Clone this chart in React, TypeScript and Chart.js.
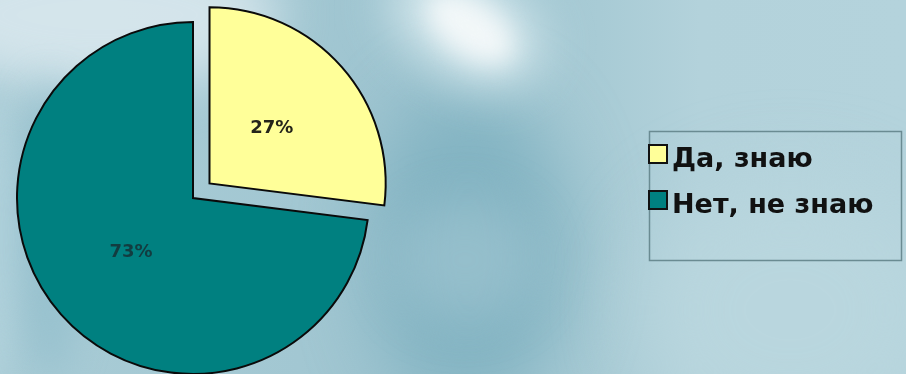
import React, { useEffect, useRef } from "react";
import { Chart, registerables } from "chart.js";

Chart.register(...registerables);

const categories: string[] = ["Да, знаю", "Нет, не знаю"];
const values: number[] = [27, 73];
const sliceColors: string[] = ["#ffff99", "#008080"];
const sliceOffsets: number[] = [88, 0];
const labelColors: string[] = ["#24241a", "#123c40"];

const pctLabelsPlugin = {
  id: "pctLabels",
  afterDatasetsDraw(chart: any) {
    const ctx = chart.ctx;
    const meta = chart.getDatasetMeta(0);
    const ds = chart.data.datasets[0];
    const total = (ds.data as number[]).reduce((a, b) => a + b, 0);
    ctx.save();
    ctx.font = "bold 18px 'DejaVu Sans'";
    ctx.textAlign = "center";
    ctx.textBaseline = "middle";
    meta.data.forEach((arc: any, i: number) => {
      const off = (arc.options.offset || 0) / 4;
      const circ = arc.endAngle - arc.startAngle;
      const fix = 1 - Math.sin(Math.min(Math.PI, circ));
      const shift = off + off * fix;
      const mid = (arc.startAngle + arc.endAngle) / 2;
      const r = shift + arc.outerRadius * 0.47;
      const x = arc.x + Math.cos(mid) * r;
      const y = arc.y + Math.sin(mid) * r;
      ctx.fillStyle = labelColors[i];
      ctx.fillText(Math.round((ds.data[i] / total) * 100) + "%", x, y);
    });
    ctx.restore();
  },
};

const boxLegendPlugin = {
  id: "boxLegend",
  afterDraw(chart: any) {
    const ctx = chart.ctx;
    const ds = chart.data.datasets[0];
    const labels = chart.data.labels as string[];
    ctx.save();
    ctx.strokeStyle = "#6a8b92";
    ctx.lineWidth = 1.5;
    ctx.strokeRect(649.5, 131.5, 252, 129);
    ctx.font = "bold 27px 'DejaVu Sans'";
    ctx.textBaseline = "alphabetic";
    ctx.textAlign = "left";
    labels.forEach((lab, i) => {
      const top = 145 + i * 46;
      ctx.fillStyle = ds.backgroundColor[i];
      ctx.fillRect(649, top, 18, 18);
      ctx.strokeStyle = "#111";
      ctx.lineWidth = 2;
      ctx.strokeRect(649, top, 18, 18);
      ctx.fillStyle = "#111";
      ctx.fillText(lab, 672, top + 22);
    });
    ctx.restore();
  },
};

const blob = (
  left: number,
  top: number,
  w: number,
  h: number,
  color: string,
  blur: number,
  rot = 0
): React.CSSProperties => ({
  position: "absolute",
  left,
  top,
  width: w,
  height: h,
  borderRadius: "50%",
  background: color,
  filter: `blur(${blur}px)`,
  transform: `rotate(${rot}deg)`,
});

export default function App() {
  const ref = useRef<HTMLCanvasElement | null>(null);
  useEffect(() => {
    if (!ref.current) return;
    const chart = new Chart(ref.current, {
      type: "pie",
      data: {
        labels: categories,
        datasets: [
          {
            data: values,
            backgroundColor: sliceColors,
            borderColor: "#0a0a0a",
            borderWidth: 2,
            borderJoinStyle: "miter",
            offset: sliceOffsets,
            radius: 176,
            clip: false,
          } as any,
        ],
      },
      options: {
        responsive: false,
        animation: false,
        devicePixelRatio: 1,
        layout: { padding: { left: 0, right: 520, top: 22, bottom: 0 } },
        plugins: {
          legend: { display: false },
          tooltip: { enabled: false },
        },
        events: [],
      },
      plugins: [pctLabelsPlugin, boxLegendPlugin],
    });
    return () => chart.destroy();
  }, []);

  return (
    <div
      style={{
        position: "absolute",
        left: 0,
        top: 0,
        width: 906,
        height: 374,
        overflow: "hidden",
        background:
          "linear-gradient(90deg, #a9ccd6 0px, #a2c7d2 300px, #9cc3cf 420px, #a8cbd5 600px, #b3d2db 700px, #b4d3dc 906px)",
      }}
    >
      <div style={blob(-80, -60, 360, 150, "rgba(214,230,236,0.95)", 25)} />
      <div style={blob(-30, 90, 50, 300, "rgba(178,210,220,0.8)", 12)} />
      <div style={blob(20, 80, 60, 300, "rgba(140,186,201,0.6)", 18)} />
      <div style={blob(370, 90, 200, 320, "rgba(126,176,192,0.85)", 35)} />
      <div style={blob(395, 200, 140, 120, "rgba(170,204,214,0.45)", 25)} />
      <div style={blob(380, -30, 170, 110, "rgba(214,232,238,0.8)", 22, 30)} />
      <div style={blob(420, 0, 100, 55, "rgba(244,249,250,0.95)", 12, 35)} />
      <div style={blob(640, 180, 300, 260, "rgba(186,215,223,0.8)", 40)} />
      <canvas
        ref={ref}
        width={906}
        height={374}
        style={{ position: "absolute", left: 0, top: 0, display: "block", width: 906, height: 374 }}
      />
    </div>
  );
}
